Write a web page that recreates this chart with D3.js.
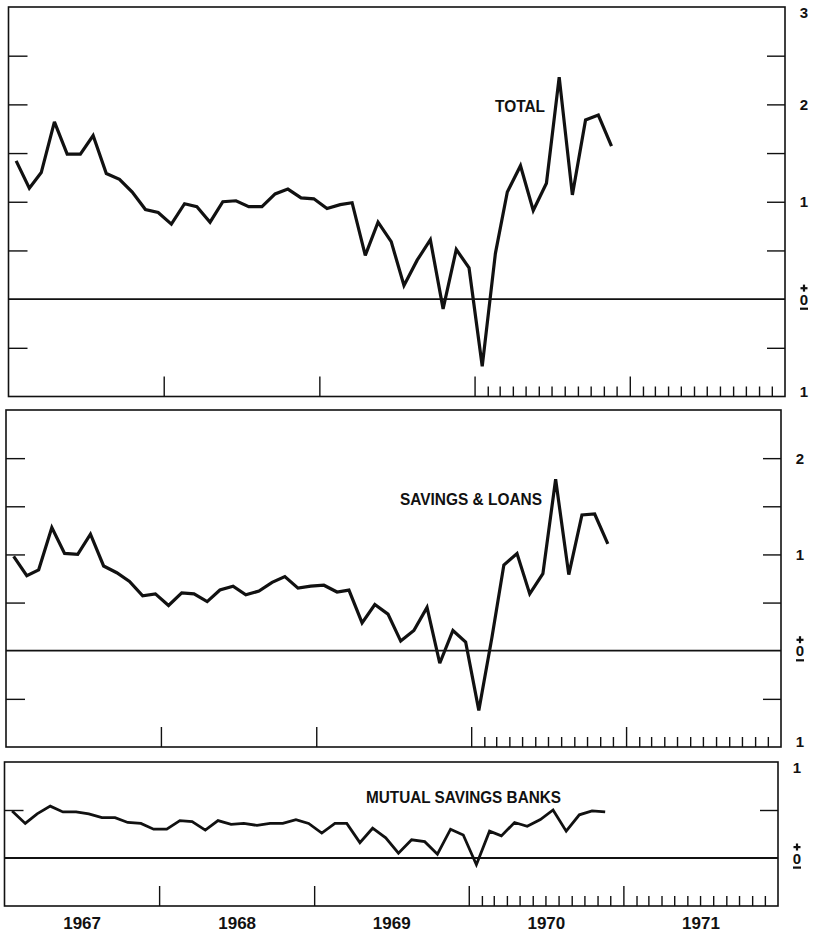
<!DOCTYPE html>
<html>
  <head>
    <meta charset="utf-8">
    <title>Savings flows</title>
    <style>
      body { margin: 0; background: #fff; }
      text { font-family: "Liberation Sans", Arial, sans-serif; font-weight: bold; fill: #111; }
    </style>
  </head>
  <body>
    <script src="https://d3js.org/d3.v7.min.js"></script>
    <svg id="chart" width="815" height="933"></svg>
    <script>
      const width = 815,
            height = 933

      // monthly values, Jan 1967 - Nov 1970
      const total = [1.42, 1.14, 1.30, 1.82, 1.49, 1.49, 1.68, 1.29, 1.23, 1.10, 0.92, 0.89,
                     0.77, 0.98, 0.95, 0.79, 1.00, 1.01, 0.95, 0.95, 1.08, 1.13, 1.04, 1.03,
                     0.93, 0.97, 0.99, 0.45, 0.79, 0.59, 0.14, 0.40, 0.61, -0.10, 0.51, 0.32,
                     -0.69, 0.47, 1.10, 1.37, 0.91, 1.19, 2.28, 1.07, 1.84, 1.89, 1.57]
      const savingsLoans = [0.98, 0.78, 0.84, 1.28, 1.01, 1.00, 1.21, 0.88, 0.81, 0.72, 0.57, 0.59,
                            0.47, 0.60, 0.59, 0.51, 0.63, 0.67, 0.58, 0.62, 0.71, 0.77, 0.65, 0.67,
                            0.68, 0.61, 0.63, 0.29, 0.48, 0.38, 0.10, 0.21, 0.45, -0.13, 0.21, 0.09,
                            -0.62, 0.14, 0.89, 1.01, 0.59, 0.80, 1.78, 0.79, 1.41, 1.42, 1.11]
      const mutualBanks = [0.49, 0.36, 0.46, 0.54, 0.48, 0.48, 0.46, 0.42, 0.42, 0.37, 0.36, 0.30,
                           0.30, 0.39, 0.38, 0.29, 0.39, 0.35, 0.36, 0.34, 0.36, 0.36, 0.40, 0.36,
                           0.26, 0.36, 0.36, 0.16, 0.31, 0.21, 0.05, 0.19, 0.17, 0.04, 0.30, 0.24,
                           -0.07, 0.28, 0.23, 0.37, 0.33, 0.40, 0.50, 0.28, 0.45, 0.49, 0.48]

      const seriesNames = ["TOTAL", "SAVINGS & LOANS", "MUTUAL SAVINGS BANKS"]
      const years = [1967, 1968, 1969, 1970, 1971]

      // scale labels down the right side (the bottom "1" means minus one)
      const totalLabelValues = [3, 2, 1, 0, -1]
      const totalLabelText = ["3", "2", "1", "0", "1"]
      const slLabelValues = [2, 1, 0, -1]
      const slLabelText = ["2", "1", "0", "1"]
      const msbLabelValues = [1, 0]
      const msbLabelText = ["1", "0"]

      // points sit a little past the start of each month
      const dates = d3.timeMonth.range(new Date(1967, 0, 1), new Date(1970, 11, 1))
        .map(d => d3.timeDay.offset(d, 18))

      const panels = [
        { name: seriesNames[0], values: total, domain: [-1, 3], top: 7, bottom: 396.5, x0: 8.5, x1: 785,
          labelValues: totalLabelValues, labelText: totalLabelText, nameX: 495, nameY: 112, nameW: 50, stroke: 3.2 },
        { name: seriesNames[1], values: savingsLoans, domain: [-1, 2.5], top: 410, bottom: 747, x0: 6, x1: 781,
          labelValues: slLabelValues, labelText: slLabelText, nameX: 400, nameY: 505, nameW: 142, stroke: 3.2 },
        { name: seriesNames[2], values: mutualBanks, domain: [-0.5, 1], top: 762, bottom: 906, x0: 4.5, x1: 778,
          labelValues: msbLabelValues, labelText: msbLabelText, nameX: 366, nameY: 803, nameW: 195, stroke: 2.8 }
      ]

      const svg = d3.select('#chart')
      svg.append('rect').attr('width', width).attr('height', height).attr('fill', '#fff')

      const yearStart = years.map(y => new Date(y, 0, 1))
      const majorTicks = yearStart.slice(1)
      const minorTicks = d3.timeMonth.range(new Date(1970, 1, 1), new Date(1972, 0, 1))
        .filter(d => d.getMonth() !== 0)

      panels.forEach((p, i) => {
        const x = d3.scaleTime([new Date(1967, 0, 1), new Date(1972, 0, 1)], [p.x0, p.x1])
        const y = d3.scaleLinear(p.domain, [p.bottom, p.top])
        const g = svg.append('g').attr('class', 'panel')

        // half-unit ticks on both sides, except the frame edges and zero
        const steps = d3.range(p.domain[0] + 0.5, p.domain[1], 0.5).filter(v => Math.abs(v) > 1e-9)

        g.append('g')
          .attr('transform', `translate(${p.x0},0)`)
          .call(d3.axisLeft(y).tickValues(steps).tickSize(-19).tickFormat(''))
          .call(a => a.select('.domain').remove())
        g.append('g')
          .attr('transform', `translate(${p.x1},0)`)
          .call(d3.axisRight(y).tickValues(steps).tickSize(-18).tickFormat(''))
          .call(a => a.select('.domain').remove())

        // year ticks and monthly ticks for 1970-71
        g.append('g')
          .attr('transform', `translate(0,${p.bottom})`)
          .call(d3.axisBottom(x).tickValues(majorTicks).tickSize(-20).tickFormat(''))
          .call(a => a.select('.domain').remove())
        g.append('g')
          .attr('transform', `translate(0,${p.bottom})`)
          .call(d3.axisBottom(x).tickValues(minorTicks).tickSize(-10).tickFormat(''))
          .call(a => a.select('.domain').remove())

        g.selectAll('.tick line').attr('stroke', '#111').attr('stroke-width', 1.4)

        // frame
        g.append('rect')
          .attr('x', p.x0).attr('y', p.top)
          .attr('width', p.x1 - p.x0).attr('height', p.bottom - p.top)
          .attr('fill', 'none').attr('stroke', '#111').attr('stroke-width', 1.6)

        // zero line
        g.append('line')
          .attr('x1', p.x0).attr('x2', p.x1)
          .attr('y1', y(0)).attr('y2', y(0))
          .attr('stroke', '#111').attr('stroke-width', 1.8)

        const line = d3.line()
          .x((d, j) => x(dates[j]))
          .y(d => y(d))

        g.append('path')
          .datum(p.values)
          .attr('d', line)
          .attr('fill', 'none')
          .attr('stroke', '#111')
          .attr('stroke-width', p.stroke)
          .attr('stroke-linejoin', 'miter')
          .attr('stroke-miterlimit', 3)

        // series name, condensed to the printed width
        g.append('text')
          .attr('x', p.nameX).attr('y', p.nameY)
          .attr('textLength', p.nameW).attr('lengthAdjust', 'spacingAndGlyphs')
          .style('font-size', '16px')
          .text(p.name)

        // right-hand scale labels; zero gets a plus above and a bar below
        const lx = p.x1 + 19
        p.labelValues.forEach((v, k) => {
          const yy = Math.max(p.top + 6, Math.min(p.bottom - 5, y(v)))
          if (v === 0) {
            g.append('rect').attr('x', lx - 3.5).attr('y', yy - 12).attr('width', 7).attr('height', 2.2)
              .attr('fill', '#111')
            g.append('rect').attr('x', lx - 1.1).attr('y', yy - 14.5).attr('width', 2.2).attr('height', 7)
              .attr('fill', '#111')
            g.append('text').attr('x', lx).attr('y', yy + 5.5).attr('text-anchor', 'middle')
              .style('font-size', '15px').text(p.labelText[k])
            g.append('rect').attr('x', lx - 4).attr('y', yy + 8.5).attr('width', 8).attr('height', 2.2)
              .attr('fill', '#111')
          } else {
            g.append('text').attr('x', lx).attr('y', yy).attr('dy', '0.36em').attr('text-anchor', 'middle')
              .style('font-size', '15px').text(p.labelText[k])
          }
        })

        // year labels under the last panel
        if (i === panels.length - 1) {
          const mids = years.map(yr => new Date(yr, 6, 2))
          g.append('g')
            .attr('transform', `translate(0,${p.bottom})`)
            .call(d3.axisBottom(x).tickValues(mids).tickSize(0).tickPadding(11).tickFormat(d3.timeFormat('%Y')))
            .call(a => a.select('.domain').remove())
            .selectAll('text')
              .style('font-size', '17px')
              .style('font-family', '"Liberation Sans", Arial, sans-serif')
              .style('font-weight', 'bold')
              .attr('fill', '#111')
        }
      })
    </script>
  </body>
</html>
